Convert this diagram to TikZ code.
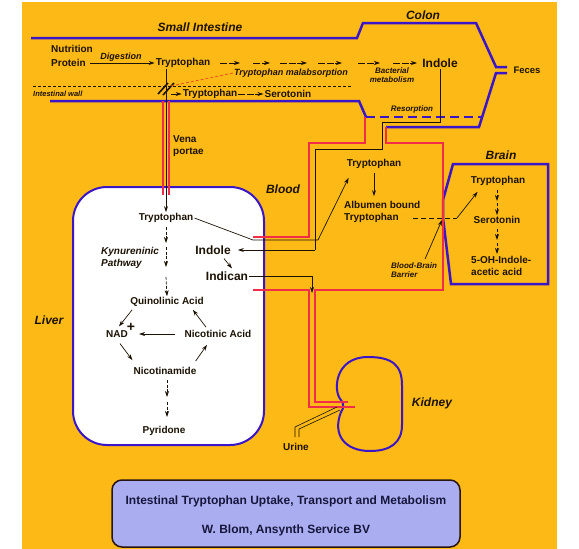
\documentclass[tikz,border=0pt]{standalone}
\usepackage{fontspec}
\setmainfont{Liberation Sans}
\usetikzlibrary{arrows.meta,calc}
\definecolor{bg}{RGB}{253,185,22}
\definecolor{wall}{RGB}{58,22,200}
\definecolor{vred}{RGB}{242,45,72}
\definecolor{ink}{RGB}{28,18,4}
\definecolor{maldash}{RGB}{232,84,30}
\definecolor{capfill}{RGB}{170,174,240}
\definecolor{capink}{RGB}{22,22,60}
\definecolor{capline}{RGB}{40,20,20}
\tikzset{
 lbl/.style={font=\fontsize{10}{12}\selectfont\bfseries, text=ink, inner sep=1pt},
 big/.style={font=\fontsize{12}{14}\selectfont\bfseries, text=ink, inner sep=1pt},
 ttl/.style={font=\fontsize{12}{14}\selectfont\bfseries\itshape, text=ink, inner sep=1pt},
 itl/.style={font=\fontsize{9}{10}\selectfont\bfseries\itshape, text=ink, inner sep=1pt},
 sml/.style={font=\fontsize{8}{9}\selectfont\bfseries\itshape, text=ink, inner sep=1pt},
 captext/.style={font=\fontsize{12}{14}\selectfont\bfseries, text=capink, inner sep=1pt},
 organ/.style={draw=wall, line width=2.5pt},
 softorgan/.style={draw=wall, line width=2pt},
 vessel/.style={draw=vred, line width=1.8pt},
 conn/.style={draw=ink, line width=0.7pt},
 arr/.style={conn, -{Stealth[length=6pt,width=4pt]}},
 darr/.style={arr, dash pattern=on 3pt off 1.5pt},
 larr/.style={arr, dash pattern=on 7pt off 1.5pt},
}
\begin{document}
\begin{tikzpicture}[x=1pt,y=-1pt]
\useasboundingbox (0,0) rectangle (579,549);
\fill[white] (0,0) rectangle (579,549);
\fill[bg] (22,2) rectangle (557,549);

% small intestine and colon walls
\draw[organ] (31,38) -- (357,38) -- (363,23) -- (476,23) -- (496,67) -- (507,67);
\draw[organ] (507,73) -- (496,73) -- (479,127) -- (386,127);
\draw[organ] (50,101) -- (359,101) -- (366,117);
\draw[organ, dash pattern=on 9pt off 5pt] (366,117) -- (482,117);
\draw[conn, line width=0.6pt, dash pattern=on 3pt off 2pt] (33,86) -- (352,86);

% liver
\draw[softorgan, fill=white, rounded corners=34pt] (73,187) rectangle (264,445);
% brain
\draw[organ] (453,164) -- (548,164) -- (548,284) -- (451,284) -- (443,218) -- (443,200) -- cycle;
% kidney
\draw[softorgan] (341,400) .. controls (333,392) and (334,357) .. (368,357)
  .. controls (392,357) and (402,365) .. (402,385) -- (402,425)
  .. controls (402,443) and (390,451) .. (370,451)
  .. controls (345,451) and (332,435) .. (341,412)
  .. controls (344,408) and (344,404) .. (341,400) -- cycle;

% blood vessels
\draw[vessel] (163,101) -- (163,195);
\draw[vessel] (169,101) -- (169,195);
\draw[vessel] (253,237) -- (309,237) -- (309,143) -- (365,143) -- (365,117);
\draw[vessel] (386,127) -- (386,143) -- (443,143) -- (443,290) -- (315,290) -- (315,402) -- (348,402);
\draw[vessel] (253,290) -- (309,290) -- (309,407) -- (355,407);

% urine duct
\draw[conn, line width=0.6pt] (337,407) -- (295,427) -- (295,437);
\draw[conn, line width=0.6pt] (340,410) -- (299,429) -- (299,437);

% caption box
\node[draw=capline, line width=1.5pt, fill=capfill, rounded corners=10pt, minimum width=348pt, minimum height=67pt, inner sep=0pt] (capbox) at (286,513.5) {};
\node[captext] (cap1) at (286,501) {Intestinal Tryptophan Uptake, Transport and Metabolism};
\node[captext] (cap2) at (286,530) {W. Blom, Ansynth Service BV};

% labels
\node[ttl] (si) at (200,27) {Small Intestine};
\node[ttl] (colon) at (423,15) {Colon};
\node[lbl, anchor=west] (nutr) at (50,49) {Nutrition};
\node[lbl, anchor=west] (prot) at (50,63) {Protein};
\node[itl] (dig) at (121,57) {Digestion};
\node[lbl] (trp1) at (183,63) {Tryptophan};
\node[itl] (mal) at (291,73) {Tryptophan malabsorption};
\node[sml, align=center] (bact) at (392,75.5) {Bacterial\\metabolism};
\node[big] (ind1) at (440,63) {Indole};
\node[lbl, font=\fontsize{9.5}{11}\selectfont\bfseries] (fec) at (527,70) {Feces};
\node[sml, font=\fontsize{7.5}{9}\selectfont\bfseries\itshape, anchor=west] (iwall) at (32,94) {Intestinal wall};
\node[lbl] (trp2) at (210,94) {Tryptophan};
\node[lbl] (ser1) at (288,94) {Serotonin};
\node[sml] (res) at (412,109) {Resorption};
\node[lbl, align=left, anchor=west] (vena) at (172,146) {Vena\\portae};
\node[ttl] (blood) at (283,189) {Blood};
\node[ttl] (liver) at (49,320) {Liver};
\node[lbl] (trp3) at (166,218) {Tryptophan};
\node[lbl, font=\fontsize{10}{12}\selectfont\bfseries\itshape, align=left, anchor=west] (kyn) at (100,258) {Kynureninic\\Pathway};
\node[big] (ind2) at (213,250) {Indole};
\node[big] (ican) at (227,276) {Indican};
\node[lbl] (quin) at (167,302) {Quinolinic Acid};
\node[lbl] (nad) at (117,334) {NAD};
\node[big, font=\fontsize{14}{14}\selectfont\bfseries] (nadplus) at (131,327) {+};
\node[lbl] (nic) at (218,334) {Nicotinic Acid};
\node[lbl] (nam) at (165,371) {Nicotinamide};
\node[lbl] (pyr) at (164,431) {Pyridone};
\node[lbl] (trp4) at (374,164) {Tryptophan};
\node[lbl, align=left, anchor=west] (alb) at (343,212) {Albumen bound\\Tryptophan};
\node[sml, align=left, anchor=west] (bbb) at (390,270.5) {Blood-Brain\\Barrier};
\node[ttl] (brain) at (501,155) {Brain};
\node[lbl] (trp5) at (498,181) {Tryptophan};
\node[lbl] (ser2) at (497,220) {Serotonin};
\node[lbl, align=left, anchor=west] (ohi) at (470,266) {5-OH-Indole-\\acetic acid};
\node[ttl] (kid) at (432,403) {Kidney};
\node[lbl] (urine) at (296,447) {Urine};

% intestine connectors
\draw[arr, shorten <=3pt] (prot.east) -- (trp1.west);
\foreach \a/\b in {220/240,253/270,280/307,318/342,358/380,393/417}
  \draw[larr] (\a,63) -- (\b,63);
\draw[conn, line width=1.6pt] (158,94) -- (168,83);
\draw[conn, line width=1.6pt] (163,95) -- (174,83);
\draw[draw=maldash, line width=0.8pt, dash pattern=on 3pt off 2pt] (mal.west) -- (171,86);
\draw[arr] (trp1.south -| trp3.north) -- (trp3.north);
\draw[arr] (171,94) -- (trp2.west);
\draw[larr] (trp2.east) -- (ser1.west);

% liver pathway
\draw[darr] (166,227) -- (166,243);
\draw[darr] (166,247) -- (166,267);
\draw[darr] (166,277) -- (quin.north);
\draw[arr] ($(quin.south west)+(3,2)$) -- ($(nad.north)+(2,-3)$);
\draw[arr] ($(nad.south)+(3,5)$) -- ($(nam.north west)+(0,-6)$);
\draw[arr] ($(nam.north east)+(-2,-5)$) -- ($(nic.south)+(-11,6)$);
\draw[arr] ($(nic.north)+(-12,-2)$) -- ($(quin.south east)+(-12,2)$);
\draw[arr] ($(nic.west)+(-8,0)$) -- ($(nad.east)+(10,0)$);
\draw[darr] (167,380) -- (167,397);
\draw[darr] (167,402) -- (167,417);
\draw[arr] ($(ind2.south)+(11,3)$) -- ($(ican.north)+(5,-2)$);

% blood connectors
\draw[conn] (ind1.south) -- (440,122) -- (382,122) -- (382,149) -- (315,149) -- (315,250);
\draw[arr] (315,250) -- ($(ind2.east)+(6,0)$);
\draw[conn] (trp3.east) -- (253,240) -- (318,240);
\draw[arr] (318,240) -- ($(trp4.south west)+(3,8)$);
\draw[conn] (ican.east) -- (312,276);
\draw[arr] (312,276) -- (312,293);
\draw[arr, shorten <=3pt, shorten >=4pt] (trp4.south) -- (trp4.south |- alb.north);

% brain connectors
\draw[conn, dash pattern=on 5pt off 3pt] (413,218) -- (457,218);
\draw[arr] (457,218) -- ($(trp5.south west)+(8,5)$);
\draw[arr] ($(bbb.north)+(11,-3)$) -- (442,220);
\draw[darr] (497,190) -- (497,201);
\draw[darr] (497,203) -- (ser2.north);
\draw[darr] (497,229) -- (497,240);
\draw[darr] (497,243) -- (497,254);
\end{tikzpicture}
\end{document}
